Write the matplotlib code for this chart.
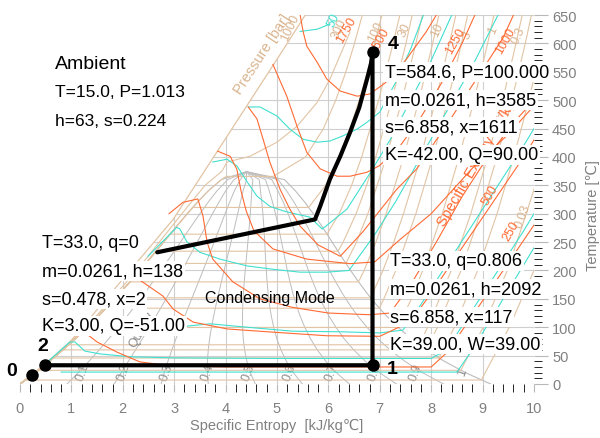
import numpy as np
import matplotlib.pyplot as plt
from matplotlib.patches import Polygon

plt.rcParams['font.family'] = ['Liberation Sans', 'DejaVu Sans']

# ---- cycle states (s, T) ----
pt_names = ['0', '1', '2', '4']
pt_s = [0.224, 6.858, 0.478, 6.858]
pt_T = [15.0, 33.0, 33.0, 584.6]

# path drawn through the states
path_s = [0.478, 6.858, 6.858, 6.83, 6.76, 6.60, 6.42, 6.23, 6.03, 5.84, 5.74, 2.67]
path_T = [33.0, 33.0, 584.6, 565, 540, 487, 443, 401, 361, 313, 290, 232]

# ---- saturation table of water ----
sat_T = [0.01, 20, 40, 60, 80, 100, 120, 140, 160, 180, 200, 220, 240, 260,
         280, 300, 320, 340, 360, 373.95]
sat_sf = [0.0, 0.2965, 0.5724, 0.8312, 1.0754, 1.3072, 1.5279, 1.7392, 1.9426,
          2.1392, 2.3305, 2.5177, 2.7020, 2.8849, 3.0685, 3.2552, 3.4494,
          3.6601, 3.9167, 4.407]
sat_sg = [9.1556, 8.6661, 8.2557, 7.9082, 7.6103, 7.3542, 7.1292, 6.9294,
          6.7502, 6.5857, 6.4322, 6.2861, 6.1437, 6.0019, 5.8571, 5.7059,
          5.5423, 5.3595, 5.1444, 4.407]
quality = [0.1, 0.2, 0.3, 0.4, 0.5, 0.6, 0.7, 0.8, 0.9]
q_lab = ['0.1', '0.2', '0.3', '0.4', '0.5', '0.6', '0.7', '0.8', '0.9', '1']
q_lab_s = [1.22, 2.02, 2.86, 3.66, 4.45, 5.25, 6.06, 6.90, 7.70, 8.60]

# ---- isobars [bar]: Tsat, s_f, s_g, superheated points ----
p_tsat = {0.01: 7.0, 0.03: 24.1, 0.1: 45.8, 0.2: 60.1, 0.3: 69.1, 1: 99.6,
          3: 133.5, 5: 151.8, 10: 179.9, 20: 212.4, 30: 233.9, 50: 263.9,
          100: 311.0, 200: 365.7}
p_sf = {0.01: 0.106, 0.03: 0.354, 0.1: 0.649, 0.2: 0.832, 0.3: 0.944,
        1: 1.303, 3: 1.672, 5: 1.861, 10: 2.138, 20: 2.447, 30: 2.645,
        50: 2.921, 100: 3.360, 200: 4.015}
p_sg = {0.01: 8.975, 0.03: 8.576, 0.1: 8.149, 0.2: 7.907, 0.3: 7.769,
        1: 7.359, 3: 6.992, 5: 6.821, 10: 6.586, 20: 6.340, 30: 6.187,
        50: 5.973, 100: 5.616, 200: 4.927}
p_sup_T = {0.01: [100, 200], 0.03: [100, 200, 300, 400],
           0.1: [100, 200, 300, 400, 500, 600],
           0.2: [100, 200, 300, 400, 500, 600, 650],
           0.3: [100, 200, 300, 400, 500, 600, 650],
           1: [150, 200, 300, 400, 500, 600, 650],
           3: [150, 200, 300, 400, 500, 600, 650],
           5: [200, 250, 300, 400, 500, 600, 650],
           10: [200, 250, 300, 400, 500, 600, 650],
           20: [250, 300, 400, 500, 600, 650],
           30: [250, 300, 350, 400, 500, 600, 650],
           50: [300, 350, 400, 500, 600, 650],
           100: [350, 400, 450, 500, 550, 600, 650],
           200: [400, 450, 500, 550, 600, 650]}
p_sup_s = {0.01: [9.52, 10.0], 0.03: [9.01, 9.48, 9.85, 10.2],
           0.1: [8.449, 8.904, 9.281, 9.608, 9.898, 10.16],
           0.2: [8.12, 8.58, 8.95, 9.28, 9.57, 9.83, 9.95],
           0.3: [7.93, 8.39, 8.77, 9.10, 9.39, 9.65, 9.77],
           1: [7.613, 7.834, 8.216, 8.544, 8.834, 9.098, 9.22],
           3: [7.078, 7.311, 7.702, 8.033, 8.325, 8.589, 8.71],
           5: [7.061, 7.272, 7.461, 7.796, 8.089, 8.354, 8.48],
           10: [6.694, 6.925, 7.123, 7.465, 7.762, 8.029, 8.15],
           20: [6.547, 6.768, 7.128, 7.432, 7.702, 7.83],
           30: [6.287, 6.539, 6.743, 6.921, 7.234, 7.509, 7.63],
           50: [6.210, 6.452, 6.648, 6.977, 7.259, 7.39],
           100: [5.946, 6.214, 6.422, 6.600, 6.759, 6.905, 7.04],
           200: [5.556, 5.904, 6.143, 6.341, 6.507, 6.66]}
# supercritical isobars
p300_s = [0.0, 0.55, 1.29, 2.27, 3.15, 3.60, 3.93, 4.03, 4.47, 5.00, 5.39, 5.78, 6.03, 6.28, 6.42]
p300_T = [0, 40, 100, 200, 300, 350, 375, 391, 401, 426, 454, 496, 537, 590, 620]
p1000_s = [0.0, 0.45, 0.97, 2.98, 5.10, 5.55]
p1000_T = [0, 32, 74, 290, 586, 650]
p_top_lab = ['1000', '300', '100', '30', '10', '3', '1', '0.3']
p_top_s = [5.25, 6.22, 6.92, 7.48, 8.12, 8.70, 9.20, 9.70]
p_top_T = [628, 626, 622, 625, 625, 615, 625, 615]

# ---- specific volume lines ----
v_lines_s = [
    [5.45, 5.78, 6.03],
    [4.44, 4.67, 5.00, 5.25, 5.51, 5.78, 6.03, 6.28, 6.56, 6.75, 7.0, 7.3, 7.6, 7.85],
    [3.75, 4.03, 4.22, 4.42, 4.61, 4.86, 5.12, 5.39, 5.64, 5.88, 6.36, 6.8, 7.2, 7.6, 8.0, 8.4],
    [2.49, 3.05, 3.11, 3.25, 3.50, 3.89, 4.42, 4.93, 5.45, 5.97, 6.40, 6.9, 7.3, 7.8, 8.3, 8.8, 9.3],
    [2.2, 3.25, 3.70, 4.42, 5.31, 6.23, 7.0, 7.45, 7.8, 8.3, 8.8, 9.3, 9.8, 10.0],
    [0.45, 0.97, 1.07, 1.26, 1.56, 2.14, 3.0, 5.0, 7.0, 8.0, 8.3, 8.8, 9.3, 9.8, 10.0],
    [0.8, 4.0, 8.5, 8.8, 9.4, 10.0],
]
v_lines_T = [
    [621, 625, 634],
    [488, 488, 472, 449, 431, 426, 428, 437, 449, 461, 479, 530, 590, 650],
    [391, 396, 384, 356, 331, 313, 305, 299, 294, 273, 308, 370, 430, 500, 570, 650],
    [225, 276, 273, 250, 232, 220, 208, 202, 197, 197, 200, 263, 320, 400, 480, 560, 650],
    [110, 102, 106, 100, 93, 92, 90, 95, 140, 210, 280, 350, 420, 450],
    [32, 74, 74, 58, 53, 48, 46, 45, 45, 45, 60, 130, 200, 270, 300],
    [21, 21, 21, 60, 150, 240],
]

# ---- specific exergy lines ----
e_lines_s = [
    [5.45, 5.51, 5.58, 5.78, 5.97, 6.23, 6.56, 6.81, 7.1, 7.5, 7.9, 8.1],
    [4.92, 5.19, 5.39, 5.58, 5.84, 6.17, 6.42, 6.75, 7.0, 7.4, 7.8, 8.2, 8.6, 8.85],
    [4.44, 4.61, 4.73, 4.86, 5.06, 5.25, 5.45, 5.8, 6.23, 6.67, 7.33, 7.72, 7.98, 8.4, 8.9, 9.4, 9.6],
    [3.85, 4.09, 4.22, 4.30, 4.40, 4.55, 4.92, 5.58, 6.42, 6.9, 7.4, 8.0, 8.8, 9.5, 10.0],
    [2.9, 3.17, 3.46, 3.56, 3.64, 3.75, 4.14, 4.67, 5.3, 6.0, 6.8, 7.2, 7.6, 8.1, 8.6, 9.1, 9.6, 10.0],
    [2.3, 2.78, 2.98, 3.37, 4.03, 4.81, 5.97, 7.0, 7.6, 8.0, 8.6, 9.2, 9.8, 10.0],
    [1.2, 1.50, 1.89, 2.33, 2.92, 4.0, 6.0, 8.0, 8.3, 8.8, 9.4, 10.0],
]
e_lines_T = [
    [650, 620, 595, 567, 537, 516, 507, 511, 530, 570, 620, 650],
    [563, 507, 454, 408, 379, 366, 366, 373, 385, 420, 470, 530, 600, 650],
    [488, 467, 431, 391, 343, 308, 278, 245, 225, 268, 343, 379, 414, 470, 540, 610, 650],
    [410, 401, 378, 340, 305, 270, 238, 220, 212, 215, 255, 300, 380, 440, 490],
    [300, 320, 326, 296, 250, 220, 180, 150, 135, 125, 122, 125, 175, 250, 330, 400, 460, 500],
    [185, 155, 132, 109, 97, 92, 85, 84, 110, 160, 240, 320, 400, 430],
    [95, 74, 56, 39, 32, 30, 30, 30, 55, 120, 200, 280],
]
e_lab = ['1750', '1500', '1250', '1000', '500', '250']
e_lab_s = [6.35, 7.0, 8.47, 9.45, 9.14, 9.55]
e_lab_T = [625, 605, 605, 605, 334, 270]

# ---- state labels ----
amb_lines = ['T=15.0, P=1.013', 'h=63, s=0.224']
lab4 = ['T=584.6, P=100.000', 'm=0.0261, h=3585', 's=6.858, x=1611', 'K=-42.00, Q=90.00']
lab1 = ['T=33.0, q=0.806', 'm=0.0261, h=2092', 's=6.858, x=117', 'K=39.00, W=39.00']
lab2 = ['T=33.0, q=0', 'm=0.0261, h=138', 's=0.478, x=2', 'K=3.00, Q=-51.00']

tan = '#e2c4a4'
cyan = '#40e0d0'
orange = '#ff6a33'
grey = '#bdbdbd'

fig = plt.figure(figsize=(6, 4.39), dpi=100)
ax = fig.add_axes([20 / 600, 54 / 439, 514 / 600, 369 / 439])
ax.set_xlim(0, 10)
ax.set_ylim(0, 650)

# grid only right of the 1000 bar line
clip = Polygon(list(zip(p1000_s + [10, 10], p1000_T + [650, 0])),
               transform=ax.transData)
for xv in range(0, 11):
    ln, = ax.plot([xv, xv], [0, 650], color='#cfcfcf', lw=0.8, zorder=1)
    ln.set_clip_path(clip)
for yv in range(0, 651, 50):
    ln, = ax.plot([0, 10], [yv, yv], color='#cfcfcf', lw=0.8, zorder=1)
    ln.set_clip_path(clip)

# saturation dome and quality lines
ax.plot(sat_sf + sat_sg[::-1], sat_T + sat_T[::-1], color=grey, lw=0.8, zorder=2)
sf = np.array(sat_sf)
sg = np.array(sat_sg)
for q in quality:
    ax.plot(sf + q * (sg - sf), sat_T, color=grey, lw=0.7, zorder=2)
for t, xs in zip(q_lab, q_lab_s):
    ax.text(xs, 22, t, color='#8a8a8a', fontsize=9, rotation=70,
            ha='center', va='center', zorder=3)

# isobars
for p in p_tsat:
    ts = p_tsat[p]
    liq_T = [t for t in sat_T if t < ts]
    liq_s = sat_sf[:len(liq_T)]
    xs = liq_s + [p_sf[p], p_sg[p]] + p_sup_s[p]
    ys = liq_T + [ts, ts] + p_sup_T[p]
    ax.plot(xs, ys, color=tan, lw=0.8, zorder=3)
ax.plot(p300_s, p300_T, color=tan, lw=0.8, zorder=3)
ax.plot(p1000_s, p1000_T, color=tan, lw=0.9, zorder=3)
for t, xs, ys in zip(p_top_lab, p_top_s, p_top_T):
    ax.text(xs, ys, t, color='#d9b48f', fontsize=9, rotation=65,
            ha='center', va='center', zorder=3)
ax.text(4.72, 582, 'Pressure [bar]', color='#d9b48f', fontsize=10.5,
        rotation=57, ha='center', va='center', zorder=3)

# specific volume
for xs, ys in zip(v_lines_s, v_lines_T):
    ax.plot(xs, ys, color=cyan, lw=0.8, zorder=3)
ax.text(6.1, 642, '50', color=cyan, fontsize=9, rotation=65,
        ha='center', va='center', zorder=3)
ax.text(9.79, 296, '0.03', color='#d9b48f', fontsize=9, rotation=70,
        ha='center', va='center', zorder=3)

# specific exergy
for xs, ys in zip(e_lines_s, e_lines_T):
    ax.plot(xs, ys, color=orange, lw=0.8, zorder=3)
for t, xs, ys in zip(e_lab, e_lab_s, e_lab_T):
    ax.text(xs, ys, t, color=orange, fontsize=9, rotation=60,
            ha='center', va='center', zorder=3)
ax.text(8.3, 275, 'Specific Exergy [kJ/kg]', color=orange, fontsize=10.5,
        rotation=60, ha='left', va='bottom', rotation_mode='anchor', zorder=3)
ax.text(2.28, 62, 'Quality', color='#8a8a8a', fontsize=9, rotation=60,
        ha='left', va='bottom', rotation_mode='anchor', zorder=3)

# cycle
ax.plot(path_s, path_T, color='black', lw=3, solid_joinstyle='round',
        solid_capstyle='round', zorder=8)
ax.plot(pt_s, pt_T, 'o', color='black', ms=8, zorder=9)
num_s = [-0.16, 7.24, 0.45, 7.26]
num_T = [23, 27, 67, 599]
for n, xs, ys in zip(pt_names, num_s, num_T):
    ax.text(xs, ys, n, fontsize=14, fontweight='bold', ha='center',
            va='center', zorder=9)

box = dict(boxstyle='square,pad=0.08', fc='white', ec='none')
for lines, x0, ys in [(lab4, 7.10, [549.6, 500.3, 452.7, 403.4]),
                      (lab1, 7.20, [216.7, 167.3, 118.0, 70.5]),
                      (lab2, 0.43, [250.1, 199.1, 149.7, 102.2])]:
    for t, y in zip(lines, ys):
        ax.text(x0, y, t, fontsize=13, ha='left', va='center', bbox=box, zorder=10)

ax.text(0.68, 563.7, 'Ambient', fontsize=14, ha='left', va='center', zorder=10)
for t, y in zip(amb_lines, [514.4, 463.3]):
    ax.text(0.68, y, t, fontsize=12.5, ha='left', va='center', zorder=10)
ax.text(4.86, 153, 'Condensing Mode', fontsize=11.5, ha='center', va='center', zorder=10)

# axes styling
for sp in ax.spines.values():
    sp.set_visible(False)
ax.yaxis.tick_right()
ax.yaxis.set_label_position('right')
ax.set_xticks(range(0, 11))
ax.set_xticks(np.arange(0, 10.01, 0.2), minor=True)
ax.set_yticks(range(0, 651, 50))
ax.set_yticks(range(0, 651, 10), minor=True)
ax.tick_params(colors='#b8b8b8', labelcolor='#808080', labelsize=10.5)
ax.tick_params(axis='x', which='both', length=6, pad=6)
ax.tick_params(axis='y', which='major', length=10, pad=3)
ax.tick_params(axis='y', which='minor', length=6)
for lab in ax.get_xticklabels() + ax.get_yticklabels():
    lab.set_family(['Liberation Sans Narrow', 'Liberation Sans'])
ax.set_xlabel('Specific Entropy  [kJ/kg\u2103]', color='#808080', fontsize=10.5,
              labelpad=2, family=['Liberation Sans', 'DejaVu Sans'])
ax.set_ylabel('Temperature [\u2103]', color='#808080', fontsize=10.5,
              family=['Liberation Sans', 'DejaVu Sans'])
ax.yaxis.set_label_coords(1.1, 0.46)

fig.savefig('out.png', dpi=100)
